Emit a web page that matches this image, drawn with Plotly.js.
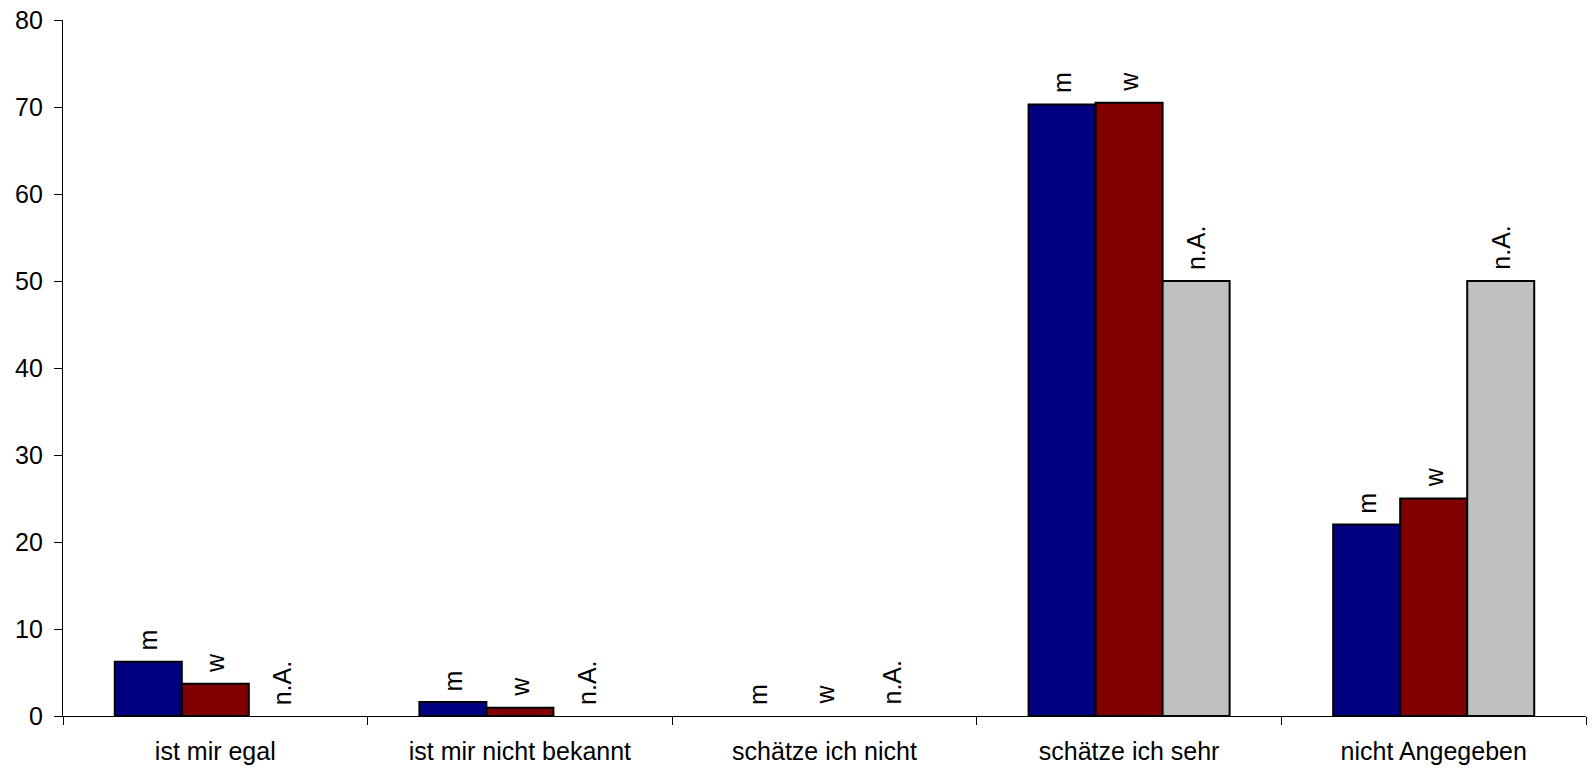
<!DOCTYPE html>
<html>
<head>
<meta charset="utf-8">
<script src="https://cdn.plot.ly/plotly-3.0.1.min.js"></script>
<style>
  html, body { margin: 0; padding: 0; background: #fff; }
  #chart { width: 1595px; height: 768px; }
</style>
</head>
<body>
<div id="chart"></div>
<script>
const categories = ["ist mir egal", "ist mir nicht bekannt", "schätze ich nicht", "schätze ich sehr", "nicht Angegeben"];
const seriesNames = ["m", "w", "n.A."];
const valuesM = [6.25, 1.6, 0, 70.3, 22.0];
const valuesW = [3.7, 0.95, 0, 70.5, 25.0];
const valuesNA = [0, 0, 0, 50, 50];
const colors = ["#000080", "#800000", "#C0C0C0"];
const yTicks = [0, 10, 20, 30, 40, 50, 60, 70, 80];

const allValues = [valuesM, valuesW, valuesNA];
const FONT = "Liberation Sans, Arial, sans-serif";
const FS = 25;
const bargap = 0.34;

const traces = allValues.map((vals, k) => ({
  type: "bar",
  name: seriesNames[k],
  x: categories,
  y: vals,
  marker: {
    color: colors[k],
    line: { color: "#000000", width: vals.map(v => (v > 0 ? 2 : 0)) }
  },
  hoverinfo: "x+y+name"
}));

// Rotated series labels above each bar, placed on the library's own axes
const nSeries = allValues.length;
const barW = (1 - bargap) / nSeries;
const annotations = [];
allValues.forEach((vals, k) => {
  vals.forEach((v, i) => {
    annotations.push({
      xref: "x", yref: "y",
      x: i + (k - (nSeries - 1) / 2) * barW,
      y: v,
      text: seriesNames[k],
      showarrow: false,
      textangle: -90,
      xanchor: "center", yanchor: "bottom",
      yshift: 9,
      font: { family: FONT, size: FS, color: "#000" }
    });
  });
});

// Y tick labels as text on the y scale (to control their distance from the ticks)
yTicks.forEach(t => {
  annotations.push({
    xref: "paper", yref: "y",
    x: 0, y: t,
    text: String(t),
    showarrow: false,
    xanchor: "right", yanchor: "middle",
    xshift: -18,
    font: { family: FONT, size: FS, color: "#000" }
  });
});

const layout = {
  width: 1595, height: 768,
  margin: { l: 63, r: 9, t: 20, b: 52 },
  paper_bgcolor: "#ffffff",
  plot_bgcolor: "#ffffff",
  showlegend: false,
  barmode: "group",
  bargap: bargap,
  bargroupgap: 0,
  font: { family: FONT, size: FS, color: "#000" },
  xaxis: {
    type: "category",
    showgrid: false,
    zeroline: false,
    showline: true, linecolor: "#000", linewidth: 1,
    ticks: "outside", ticklen: 8, tickcolor: "#000", tickwidth: 1,
    tickson: "boundaries",
    tickfont: { family: FONT, size: FS, color: "#000" },
    ticklabelstandoff: 13
  },
  yaxis: {
    range: [0, 80],
    tickvals: yTicks,
    showticklabels: false,
    showgrid: false,
    zeroline: false,
    showline: true, linecolor: "#000", linewidth: 1,
    ticks: "outside", ticklen: 8, tickcolor: "#000", tickwidth: 1
  },
  annotations: annotations
};

Plotly.newPlot("chart", traces, layout, { displayModeBar: false, staticPlot: true });
</script>
</body>
</html>
